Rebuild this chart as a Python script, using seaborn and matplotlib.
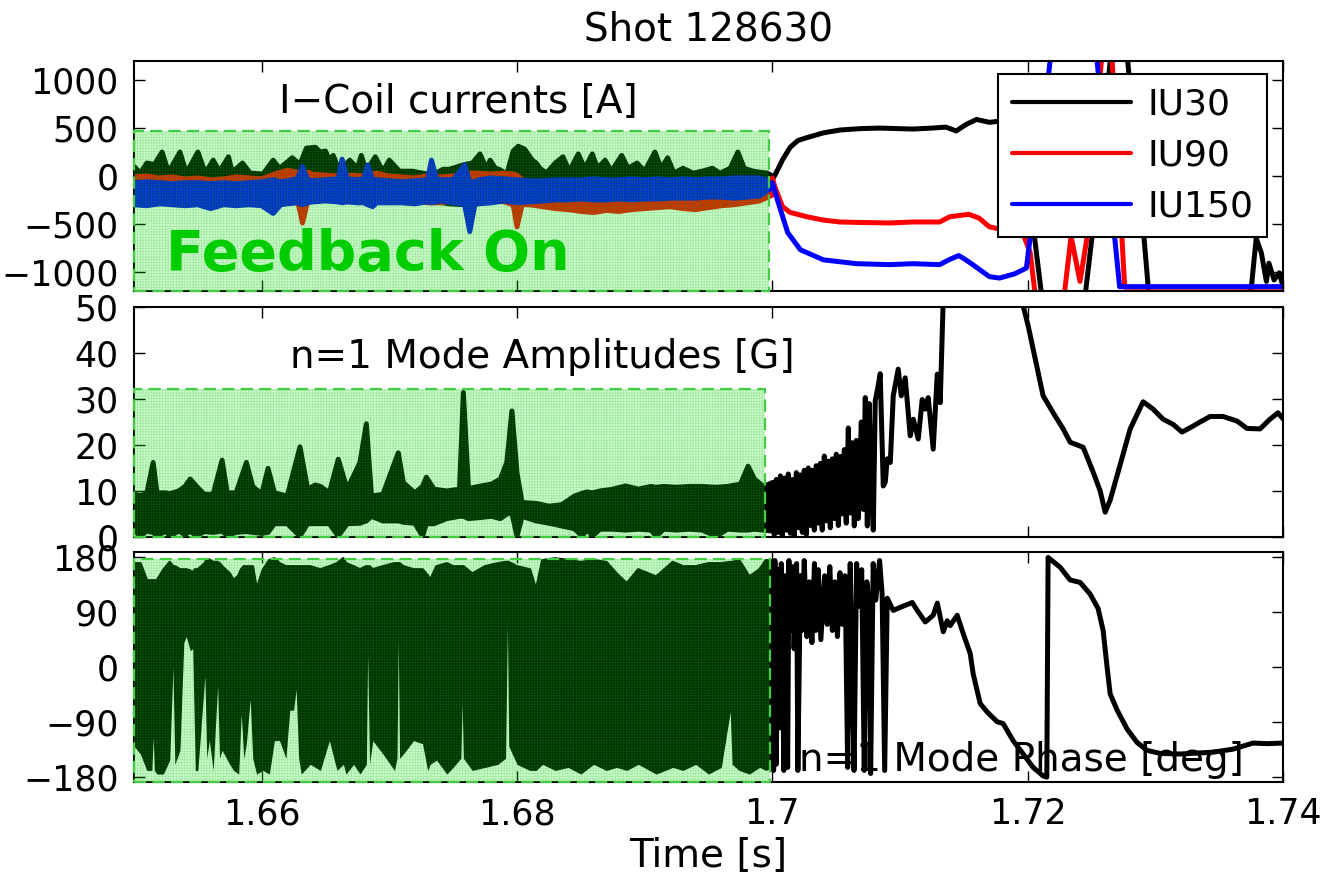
import matplotlib
matplotlib.use("Agg")
import matplotlib.pyplot as plt
from matplotlib.patches import Rectangle
import pandas as pd
import seaborn as sns

# ---------------------------------------------------------------- data
TITLE = "Shot 128630"
COIL_NAMES = ["IU30", "IU90", "IU150"]
COIL_COLORS = ["#000000", "#ff0000", "#0000ff"]

X_TICKS = [1.66, 1.68, 1.70, 1.72, 1.74]
X_TICK_LABELS = ["1.66", "1.68", "1.7", "1.72", "1.74"]
COIL_TICKS = [-1000, -500, 0, 500, 1000]
AMP_TICKS = [0, 10, 20, 30, 40, 50]
PHASE_TICKS = [-180, -90, 0, 90, 180]

# feedback window (time span and height of the shaded region in each panel)
FB_COIL = (1.6500, 1.6997, -1200, 470)
FB_AMP = (1.6500, 1.6994, 0, 32.2)
FB_PHASE = (1.6500, 1.6998, -189, 177)

# I-coil currents while feedback is on: (time [s], upper, lower) of the fast ripple [A]
IU30_FB = [
    (1.6500, 100, -180), (1.6505, 30, -200), (1.6510, 135, -190), (1.6516, 120, -210),
    (1.6522, 250, -200), (1.6527, 40, -190), (1.6536, 250, -210), (1.6541, 30, -200),
    (1.6550, 250, -220), (1.6556, 30, -200), (1.6562, 165, -210), (1.6567, 50, -190),
    (1.6574, 200, -200), (1.6577, 40, -210), (1.6585, 135, -200), (1.6591, 30, -190),
    (1.6601, 20, -200), (1.6609, 165, -220), (1.6614, 80, -200), (1.6624, 190, -210),
    (1.6630, 120, -230), (1.6635, 290, -220), (1.6642, 300, -210), (1.6646, 250, -200),
    (1.6650, 260, -210), (1.6653, 165, -200), (1.6656, 215, -220), (1.6661, 50, -200),
    (1.6669, 165, -210), (1.6675, 80, -200), (1.6678, 215, -210), (1.6682, 50, -220),
    (1.6689, 200, -200), (1.6695, 50, -210), (1.6700, 165, -220), (1.6708, 50, -230),
    (1.6718, 50, -250), (1.6734, 10, -270), (1.6742, 70, -280), (1.6747, 70, -290),
    (1.6759, 120, -300), (1.6765, 135, -280), (1.6771, 230, -260), (1.6776, 80, -240),
    (1.6779, 165, -230), (1.6783, 80, -220), (1.6786, 70, -230), (1.6792, 20, -220),
    (1.6797, 260, -210), (1.6801, 310, -220), (1.6806, 280, -200), (1.6812, 165, -210),
    (1.6815, 135, -200), (1.6818, 80, -210), (1.6823, 30, -200), (1.6830, 135, -210),
    (1.6836, 200, -200), (1.6841, 50, -210), (1.6848, 230, -200), (1.6853, 80, -210),
    (1.6859, 230, -200), (1.6863, 80, -200), (1.6869, 165, -210), (1.6874, 50, -200),
    (1.6882, 215, -200), (1.6887, 80, -190), (1.6894, 135, -200), (1.6900, 50, -190),
    (1.6908, 250, -200), (1.6913, 80, -190), (1.6918, 190, -200), (1.6923, 30, -190),
    (1.6930, 80, -180), (1.6938, 30, -190), (1.6945, 50, -180), (1.6953, 80, -190),
    (1.6959, 30, -180), (1.6967, 80, -170), (1.6973, 250, -180), (1.6978, 80, -170),
    (1.6985, 50, -160), (1.6990, 40, -160), (1.6996, 30, -150), (1.7000, 0, -100),
]
IU90_FB = [
    (1.6500, -10, -200), (1.6510, 0, -220), (1.6520, -20, -230), (1.6530, -10, -220),
    (1.6540, -30, -230), (1.6550, -20, -220), (1.6560, -40, -240), (1.6570, -30, -230),
    (1.6580, -10, -220), (1.6590, -20, -230), (1.6600, -30, -240), (1.6610, 20, -220),
    (1.6620, 60, -230), (1.6628, 40, -250), (1.6632, 30, -490), (1.6636, 40, -260),
    (1.6640, 20, -240), (1.6650, 10, -230), (1.6660, 0, -220), (1.6664, -10, -250),
    (1.6670, 10, -230), (1.6680, 0, -230), (1.6690, 30, -240), (1.6700, 0, -230),
    (1.6710, -10, -250), (1.6720, -20, -260), (1.6730, 0, -280), (1.6740, -10, -280),
    (1.6750, 0, -260), (1.6763, 30, -300), (1.6770, 30, -280), (1.6780, 20, -250),
    (1.6790, 30, -270), (1.6797, 20, -300), (1.6800, 10, -530), (1.6804, -40, -300),
    (1.6810, -60, -300), (1.6820, -70, -320), (1.6830, -70, -340), (1.6840, -70, -350),
    (1.6850, -70, -370), (1.6860, -70, -380), (1.6870, -70, -360), (1.6880, -60, -370),
    (1.6890, -60, -350), (1.6900, -60, -340), (1.6910, -60, -330), (1.6920, -60, -320),
    (1.6930, -60, -340), (1.6940, -60, -350), (1.6950, -60, -330), (1.6960, -60, -310),
    (1.6970, -70, -300), (1.6980, -70, -280), (1.6990, -70, -260), (1.7000, -100, -200),
]
IU150_FB = [
    (1.6500, -70, -300), (1.6510, -60, -310), (1.6520, -70, -290), (1.6530, -80, -300),
    (1.6540, -70, -310), (1.6550, -70, -300), (1.6560, -80, -340), (1.6570, -70, -300),
    (1.6580, -80, -310), (1.6590, -70, -300), (1.6600, -60, -310), (1.6609, -40, -390),
    (1.6615, -60, -300), (1.6620, -50, -290), (1.6628, -30, -280), (1.6632, 100, -300),
    (1.6636, -40, -280), (1.6640, -50, -270), (1.6650, -40, -260), (1.6660, -30, -270),
    (1.6663, 175, -280), (1.6667, -30, -270), (1.6675, -40, -280), (1.6680, -30, -280),
    (1.6683, 115, -300), (1.6687, -40, -320), (1.6690, -40, -280), (1.6700, -50, -280),
    (1.6710, -60, -280), (1.6720, -50, -290), (1.6730, -40, -270), (1.6733, 165, -280),
    (1.6737, -30, -270), (1.6740, -40, -260), (1.6750, -40, -280), (1.6759, 115, -300),
    (1.6763, -60, -580), (1.6767, -60, -300), (1.6770, -40, -290), (1.6780, -20, -280),
    (1.6790, -30, -260), (1.6800, -40, -280), (1.6810, -50, -270), (1.6820, -50, -260),
    (1.6830, -40, -250), (1.6840, -40, -250), (1.6850, -40, -240), (1.6860, -30, -250),
    (1.6870, -40, -250), (1.6880, -40, -240), (1.6890, -30, -250), (1.6900, -40, -240),
    (1.6910, -30, -240), (1.6920, -40, -230), (1.6930, -30, -230), (1.6940, -40, -230),
    (1.6950, -30, -220), (1.6960, -30, -220), (1.6970, -20, -230), (1.6980, -20, -220),
    (1.6990, -20, -210), (1.7000, -60, -120),
]

# I-coil currents after feedback is switched off: (time [s], current [A])
IU30_AFTER = [
    (1.7000, -40), (1.7004, 60), (1.7008, 170), (1.7014, 300), (1.7020, 370),
    (1.7027, 400), (1.7040, 450), (1.7053, 480), (1.7070, 495), (1.7084, 500),
    (1.7097, 495), (1.7110, 490), (1.7125, 500), (1.7136, 510), (1.7144, 470),
    (1.7152, 540), (1.7160, 590), (1.7170, 560), (1.7180, 575), (1.7190, 570),
    (1.7196, 520), (1.7201, -100), (1.7205, -600), (1.7211, -1250), (1.7230, -1450),
    (1.7245, -1250), (1.7256, 0), (1.7265, 1250), (1.7271, 1500), (1.7278, 1250),
    (1.7287, 0), (1.7295, -1250), (1.7330, -1300), (1.7365, -1300), (1.7372, -1220),
    (1.7375, -1190), (1.7379, -650), (1.7383, -800), (1.7387, -1100), (1.7389, -910),
    (1.7393, -1085), (1.7397, -1010), (1.7400, -1150),
]
IU90_AFTER = [
    (1.7000, -20), (1.7002, -115), (1.7008, -320), (1.7014, -380), (1.7027, -425),
    (1.7040, -460), (1.7053, -480), (1.7070, -485), (1.7092, -490), (1.7110, -480),
    (1.7131, -480), (1.7139, -425), (1.7154, -400), (1.7162, -440), (1.7170, -530),
    (1.7180, -560), (1.7196, -590), (1.7202, -800), (1.7206, -1250), (1.7220, -1300),
    (1.7229, -1200), (1.7234, -630), (1.7241, -1100), (1.7247, -600), (1.7258, 1250),
    (1.7262, 1300), (1.7266, 1250), (1.7276, -1160), (1.7320, -1160), (1.7400, -1160),
]
IU150_AFTER = [
    (1.7000, -70), (1.7004, -250), (1.7012, -590), (1.7022, -770), (1.7040, -875),
    (1.7066, -915), (1.7092, -925), (1.7110, -915), (1.7131, -925), (1.7139, -870),
    (1.7146, -830), (1.7151, -870), (1.7157, -925), (1.7170, -1050), (1.7178, -1065),
    (1.7190, -1020), (1.7199, -960), (1.7203, -530), (1.7218, 1250), (1.7236, 1400),
    (1.7254, 1250), (1.7272, -1155), (1.7320, -1155), (1.7400, -1155),
]

# n=1 mode amplitude while feedback is on: (time [s], upper, lower) [G]
AMP_FB = [
    (1.6500, 9.3, 1.5), (1.6505, 9.0, 0.2), (1.6510, 9.5, 1.3), (1.6515, 16.2, 1.0),
    (1.6518, 9.6, 0.2), (1.6525, 9.6, 1.3), (1.6528, 9.4, 0.2), (1.6535, 10.0, 1.3),
    (1.6540, 11.0, 0.5), (1.6544, 12.6, 1.3), (1.6549, 11.0, 0.2), (1.6555, 9.3, 1.2),
    (1.6562, 9.3, 1.0), (1.6569, 16.7, 1.3), (1.6573, 9.6, 0.3), (1.6580, 9.6, 1.0),
    (1.6588, 16.2, 1.2), (1.6593, 11.0, 1.0), (1.6600, 9.3, 0.8), (1.6605, 14.9, 1.0),
    (1.6610, 9.6, 2.9), (1.6620, 8.9, 2.9), (1.6630, 19.6, 0.2), (1.6636, 10.4, 2.9),
    (1.6642, 11.3, 2.9), (1.6646, 11.0, 2.9), (1.6653, 9.6, 2.9), (1.6660, 16.9, 0.2),
    (1.6667, 10.4, 2.9), (1.6677, 16.2, 3.0), (1.6682, 24.6, 3.5), (1.6686, 8.9, 4.5),
    (1.6695, 9.3, 3.5), (1.6707, 18.3, 3.5), (1.6711, 11.8, 3.2), (1.6720, 9.6, 3.0),
    (1.6726, 11.0, 0.2), (1.6729, 13.0, 2.9), (1.6735, 10.4, 2.9), (1.6745, 10.0, 4.0),
    (1.6755, 10.4, 4.5), (1.6758, 31.4, 4.5), (1.6762, 10.5, 4.0), (1.6770, 11.0, 4.2),
    (1.6780, 11.5, 4.5), (1.6787, 12.6, 4.0), (1.6792, 16.2, 5.0), (1.6796, 27.4, 5.2),
    (1.6800, 13.9, 0.2), (1.6804, 7.5, 4.5), (1.6815, 7.3, 3.5), (1.6825, 6.7, 3.0),
    (1.6835, 7.0, 2.4), (1.6845, 8.9, 1.8), (1.6851, 9.5, 0.2), (1.6855, 9.8, 1.7),
    (1.6859, 9.6, 0.2), (1.6865, 10.0, 1.7), (1.6875, 10.4, 1.7), (1.6885, 11.1, 1.5),
    (1.6895, 10.4, 1.7), (1.6905, 11.0, 1.5), (1.6909, 10.8, 0.2), (1.6915, 11.0, 1.7),
    (1.6925, 10.8, 1.5), (1.6935, 11.0, 1.7), (1.6945, 11.0, 1.5), (1.6956, 10.8, 0.2),
    (1.6965, 11.0, 1.7), (1.6975, 11.5, 1.5), (1.6981, 15.4, 1.5), (1.6986, 12.6, 1.7),
    (1.6993, 11.0, 1.5), (1.7000, 11.8, 1.3),
]
# n=1 mode amplitude after feedback: (time [s], amplitude [G])
AMP_AFTER = [
    (1.70000, 11.8), (1.70016, 0.5), (1.70031, 12.5), (1.70047, 1.0), (1.70063, 13.3),
    (1.70078, 0.3), (1.70094, 12.8), (1.70110, 1.5), (1.70125, 13.7), (1.70141, 0.8),
    (1.70157, 12.5), (1.70172, 0.3), (1.70188, 14.0), (1.70204, 2.0), (1.70219, 13.5),
    (1.70235, 1.0), (1.70250, 14.5), (1.70266, 0.5), (1.70282, 15.0), (1.70297, 2.5),
    (1.70313, 14.5), (1.70329, 1.5), (1.70344, 15.5), (1.70360, 3.0), (1.70376, 16.0),
    (1.70391, 1.5), (1.70407, 17.6), (1.70423, 3.5), (1.70438, 16.5), (1.70454, 2.0),
    (1.70470, 17.0), (1.70485, 4.0), (1.70501, 18.0), (1.70517, 2.5), (1.70532, 17.5),
    (1.70548, 5.0), (1.70564, 19.0), (1.70579, 3.0), (1.70595, 23.7), (1.70611, 5.2),
    (1.70626, 20.5), (1.70642, 2.4), (1.70658, 21.0), (1.70673, 4.0), (1.70697, 25.0),
    (1.70712, 6.0), (1.70728, 30.3), (1.70744, 2.4), (1.70759, 29.0), (1.70775, 10.0),
    (1.70791, 1.5), (1.70806, 29.6), (1.70830, 33.0), (1.70845, 35.5), (1.70869, 11.1),
    (1.70885, 12.0), (1.70900, 17.0), (1.70924, 16.2), (1.70947, 30.7), (1.70986, 36.5),
    (1.71010, 30.7), (1.71041, 34.6), (1.71080, 22.0), (1.71104, 25.6), (1.71143, 21.3),
    (1.71174, 29.9), (1.71198, 27.8), (1.71221, 30.3), (1.71260, 19.1), (1.71292, 35.4),
    (1.71315, 29.2), (1.71339, 52.0), (1.71628, 70.0), (1.71965, 50.2), (1.72004, 45.9),
    (1.72121, 30.7), (1.72200, 27.0), (1.72278, 23.5), (1.72333, 20.6), (1.72435, 19.5),
    (1.72513, 14.1), (1.72568, 10.0), (1.72607, 5.4), (1.72646, 8.0), (1.72701, 13.4),
    (1.72803, 23.5), (1.72904, 29.4), (1.72982, 27.8), (1.73061, 25.6), (1.73139, 24.5),
    (1.73209, 22.8), (1.73295, 24.1), (1.73350, 25.0), (1.73429, 26.2), (1.73530, 26.2),
    (1.73640, 25.2), (1.73718, 23.6), (1.73820, 23.5), (1.73898, 25.6), (1.73961, 27.0),
    (1.74000, 25.7),
]

# n=1 mode phase while feedback is on: (time [s], upper, lower) [deg]
PHASE_FB = [
    (1.65000, 170, -130), (1.65050, 170, -143), (1.65100, 142, -170), (1.65140, 142, -170),
    (1.65150, 142, -115), (1.65160, 142, -170), (1.65180, 142, -176), (1.65230, 159, -176),
    (1.65280, 172, -153), (1.65305, 165, 0), (1.65320, 165, -160), (1.65360, 160, -137),
    (1.65390, 160, 40), (1.65410, 160, 50), (1.65440, 158, 27), (1.65460, 155, 30),
    (1.65480, 160, -170), (1.65500, 160, -170), (1.65555, 170, -15), (1.65570, 176, -150),
    (1.65590, 176, -120), (1.65620, 172, -170), (1.65655, 172, -30), (1.65670, 170, -150),
    (1.65690, 165, -137), (1.65750, 153, -160), (1.65780, 142, -170), (1.65820, 150, -176),
    (1.65840, 160, -77), (1.65860, 165, -150), (1.65880, 165, -126), (1.65910, 165, -53),
    (1.65930, 165, -150), (1.65960, 126, -176), (1.66010, 159, -170), (1.66060, 175, -176),
    (1.66100, 178, -121), (1.66140, 170, -121), (1.66190, 165, -150), (1.66220, 165, -71),
    (1.66250, 165, -71), (1.66270, 165, -37), (1.66290, 165, -150), (1.66310, 165, -176),
    (1.66380, 165, -160), (1.66460, 160, -170), (1.66530, 165, -121), (1.66590, 170, -170),
    (1.66640, 178, -160), (1.66660, 170, -176), (1.66720, 165, -160), (1.66770, 160, -176),
    (1.66820, 165, -160), (1.66830, 165, 20), (1.66845, 165, -160), (1.66870, 160, -121),
    (1.66950, 165, -143), (1.67040, 170, -170), (1.67060, 170, -150), (1.67070, 170, 43),
    (1.67080, 170, -150), (1.67110, 165, -143), (1.67190, 160, -121), (1.67260, 160, -126),
    (1.67300, 150, -170), (1.67320, 142, -160), (1.67370, 165, -153), (1.67450, 170, -176),
    (1.67500, 165, -165), (1.67560, 165, -150), (1.67570, 165, -59), (1.67580, 165, -150),
    (1.67650, 153, -170), (1.67750, 165, -165), (1.67850, 170, -160), (1.67910, 172, -150),
    (1.67925, 172, 66), (1.67935, 172, -130), (1.68000, 165, -160), (1.68100, 160, -170),
    (1.68150, 126, -170), (1.68200, 175, -160), (1.68300, 178, -170), (1.68400, 175, -165),
    (1.68500, 172, -176), (1.68600, 175, -160), (1.68700, 172, -170), (1.68780, 153, -165),
    (1.68860, 137, -170), (1.68950, 160, -160), (1.69090, 148, -176), (1.69220, 172, -165),
    (1.69300, 165, -170), (1.69400, 165, -160), (1.69500, 170, -176), (1.69600, 170, -165),
    (1.69670, 172, -74), (1.69685, 172, -160), (1.69740, 175, -170), (1.69820, 148, -176),
    (1.69900, 160, -165), (1.69950, 175, -170), (1.70000, 175, -165),
]
# n=1 mode phase after feedback: (time [s], phase [deg])
PHASE_AFTER = [
    (1.7000, 170), (1.7001, -170), (1.7002, 175), (1.7003, -160), (1.7005, 160),
    (1.7006, -100), (1.7007, 170), (1.7009, -170), (1.7010, 150), (1.7012, -165),
    (1.7013, 175), (1.7014, 60), (1.7016, 165), (1.7017, 30), (1.7019, 170),
    (1.7020, -170), (1.7022, 150), (1.7023, 60), (1.7025, 175), (1.7027, 50),
    (1.7029, 140), (1.7031, 40), (1.7033, 170), (1.7034, 60), (1.7036, 160),
    (1.7038, 45), (1.7041, 150), (1.7043, 70), (1.7045, 165), (1.7047, 60),
    (1.7049, 140), (1.7051, 50), (1.7053, 155), (1.7055, 70), (1.7057, 150),
    (1.7059, -165), (1.7061, 170), (1.7062, 60), (1.7064, -170), (1.7066, 170),
    (1.7068, 100), (1.7070, 160), (1.7072, -170), (1.7074, 140), (1.7076, 100),
    (1.7077, -175), (1.7079, 170), (1.7081, 110), (1.7084, 175), (1.7086, 120),
    (1.7088, -170), (1.7090, 113), (1.70947, 93), (1.71002, 98), (1.71096, 106),
    (1.71135, 93), (1.71198, 74), (1.71260, 85), (1.71292, 105), (1.71339, 58),
    (1.71370, 76), (1.71393, 68), (1.71448, 85), (1.71495, 55), (1.71550, 22),
    (1.71573, -11), (1.71628, -60), (1.71683, -74), (1.71761, -90), (1.71808, -93),
    (1.71886, -121), (1.71965, -143), (1.72043, -165), (1.72121, -179), (1.72150, -181),
    (1.72160, 180), (1.72254, 164), (1.72333, 143), (1.72411, 139), (1.72489, 120),
    (1.72552, 96), (1.72591, 60), (1.72622, 0), (1.72646, -44), (1.72701, -71),
    (1.72779, -102), (1.72857, -124), (1.72935, -137), (1.73037, -142), (1.73194, -143),
    (1.73452, -140), (1.73609, -135), (1.73765, -125), (1.73875, -126), (1.74000, -125),
]

# ---------------------------------------------------------------- style
sns.set_theme(style="ticks")
plt.rcParams["font.family"] = ["DejaVu Sans"]
plt.rcParams["text.color"] = "black"
plt.rcParams["axes.labelcolor"] = "black"
plt.rcParams["xtick.color"] = "black"
plt.rcParams["ytick.color"] = "black"
plt.rcParams["lines.solid_joinstyle"] = "round"
plt.rcParams["lines.solid_capstyle"] = "round"
plt.rcParams["hatch.linewidth"] = 0.6
FS = 26          # legend text
LABEL_FS = 28    # title, axis label and panel captions
TICK_FS = 25
LW = 3.6
FB_EDGE = "#44cc44"

band_cols = ["t", "hi", "lo"]
line_cols = ["t", "v"]


def draw_band(ax, rows, color, edge=True):
    df = pd.DataFrame(rows, columns=band_cols)
    ax.fill_between(df["t"], df["lo"], df["hi"], facecolor=color, lw=0, zorder=2)
    sns.lineplot(data=df, x="t", y="hi", color=color, lw=LW if edge else 2.2,
                 estimator=None, sort=False, ax=ax)
    if edge:
        sns.lineplot(data=df, x="t", y="lo", color=color, lw=LW,
                     estimator=None, sort=False, ax=ax)


def feedback_box(ax, spec):
    x0, x1, y0, y1 = spec
    ax.add_patch(Rectangle((x0, y0), x1 - x0, y1 - y0, facecolor=(0.0, 0.9, 0.0, 0.19),
                           edgecolor="none", zorder=3))
    ax.add_patch(Rectangle((x0, y0), x1 - x0, y1 - y0, fill=False, hatch="++++++",
                           edgecolor=(0.1, 0.75, 0.1, 0.24), lw=0, zorder=3))
    ax.add_patch(Rectangle((x0, y0), x1 - x0, y1 - y0, fill=False, edgecolor=FB_EDGE,
                           lw=1.6, linestyle=(0, (5.5, 2.8)), zorder=3.5, clip_on=False))


fig = plt.figure(figsize=(13.32, 8.77), dpi=100)
left, width, height = 134 / 1332, 1149 / 1332, 230 / 877
ax1 = fig.add_axes([left, 1 - 291 / 877, width, height])
ax2 = fig.add_axes([left, 1 - 537 / 877, width, height])
ax3 = fig.add_axes([left, 1 - 782 / 877, width, height])

# ---- panel 1: I-coil currents
for rows, color in zip([IU30_FB, IU90_FB, IU150_FB], COIL_COLORS):
    draw_band(ax1, rows, color)

after = []
for name, rows in zip(COIL_NAMES, [IU30_AFTER, IU90_AFTER, IU150_AFTER]):
    d = pd.DataFrame(rows, columns=line_cols)
    d["coil"] = name
    after.append(d)
after = pd.concat(after, ignore_index=True)
sns.lineplot(data=after, x="t", y="v", hue="coil", hue_order=COIL_NAMES,
             palette=dict(zip(COIL_NAMES, COIL_COLORS)), lw=LW,
             estimator=None, sort=False, ax=ax1)
ax1.set_ylim(-1200, 1200)
ax1.set_yticks(COIL_TICKS)
feedback_box(ax1, FB_COIL)
ax1.text(1.6754, 656, "I\u2212Coil currents [A]", ha="center", va="baseline",
         fontsize=LABEL_FS, zorder=1)
ax1.text(1.6525, -980, "Feedback On", ha="left", va="baseline", fontsize=40,
         fontweight="bold", color="#00cc00", zorder=4)
handles, labels = ax1.get_legend_handles_labels()
leg = ax1.legend(handles, labels, loc="upper right", bbox_to_anchor=(0.986, 0.943),
                 fontsize=FS, frameon=True, fancybox=False, edgecolor="black",
                 framealpha=1, handlelength=3.3, handletextpad=0.45,
                 labelspacing=0.47, borderpad=0.38, borderaxespad=0)
leg.get_frame().set_linewidth(1.5)
leg.set_zorder(6)
for ln in leg.get_lines():
    ln.set_linewidth(3)
ax1.set_title(TITLE, fontsize=LABEL_FS, pad=15)

# ---- panel 2: n=1 mode amplitude
draw_band(ax2, AMP_FB, "black")
amp = pd.DataFrame(AMP_AFTER, columns=line_cols)
sns.lineplot(data=amp, x="t", y="v", color="black", lw=LW, estimator=None, sort=False, ax=ax2)
ax2.set_ylim(0, 50)
ax2.set_yticks(AMP_TICKS)
feedback_box(ax2, FB_AMP)
ax2.text(1.6820, 36.8, "n=1 Mode Amplitudes [G]", ha="center", va="baseline",
         fontsize=LABEL_FS, zorder=1)

# ---- panel 3: n=1 mode phase
draw_band(ax3, PHASE_FB, "black", edge=False)
ph = pd.DataFrame(PHASE_AFTER, columns=line_cols)
sns.lineplot(data=ph, x="t", y="v", color="black", lw=LW, estimator=None, sort=False, ax=ax3)
ax3.set_ylim(-189, 189)
ax3.set_yticks(PHASE_TICKS)
feedback_box(ax3, FB_PHASE)
ax3.text(1.7195, -171, "n=1 Mode Phase [deg]", ha="center", va="baseline",
         fontsize=LABEL_FS, zorder=1)

# ---- shared axis styling
for ax in (ax1, ax2, ax3):
    ax.set_xlim(1.65, 1.74)
    ax.set_xticks(X_TICKS)
    ax.set_xlabel("")
    ax.set_ylabel("")
    ax.tick_params(direction="in", length=8, width=1, top=True, right=True,
                   labelsize=TICK_FS, pad=11, colors="black")
    for sp in ax.spines.values():
        sp.set_linewidth(1.5)
        sp.set_color("black")
    ax.set_facecolor("white")
ax1.set_xticklabels([])
ax2.set_xticklabels([])
ax3.set_xticklabels(X_TICK_LABELS)
ax3.set_xlabel("Time [s]", fontsize=LABEL_FS, labelpad=4)

fig.savefig("out.png", dpi=100, facecolor="white")
